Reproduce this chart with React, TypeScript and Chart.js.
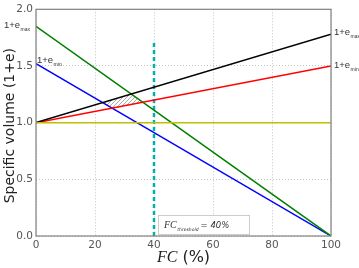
import React, { useEffect, useRef } from "react";
import { Chart, registerables } from "chart.js";

Chart.register(...registerables);

// ---- data ----
const fcRange = [0, 100];
const eMaxLine = [1.0, 1.78]; // black
const eMinLine = [1.0, 1.5]; // red
const greenLine = [1.85, 0.0];
const blueLine = [1.52, 0.0];
const yellowLine = [1.0, 1.0];
const thresholdFC = 40;
const thresholdRange = [0.0, 1.73];
const xTicks = [0, 20, 40, 60, 80, 100];
const yTicks = [0.0, 0.5, 1.0, 1.5, 2.0];
const legendMain = "FC";
const legendSub = "threshold";
const legendValue = "= 40%";
const labelMain = "1+e";
const labelMax = "max";
const labelMin = "min";

const pts = (vals: number[]) => vals.map((v, i) => ({ x: fcRange[i], y: v }));

function lineCoef(vals: number[]) {
  const a = (vals[1] - vals[0]) / (fcRange[1] - fcRange[0]);
  const b = vals[0] - a * fcRange[0];
  return { a, b };
}
function intersect(l1: number[], l2: number[]) {
  const c1 = lineCoef(l1);
  const c2 = lineCoef(l2);
  const x = (c2.b - c1.b) / (c1.a - c2.a);
  return { x, y: c1.a * x + c1.b };
}

const hatchPolygon = [
  intersect(blueLine, eMaxLine),
  intersect(greenLine, eMaxLine),
  intersect(greenLine, eMinLine),
  intersect(blueLine, eMinLine),
];

function makeHatch() {
  const c = document.createElement("canvas");
  c.width = 4;
  c.height = 4;
  const g = c.getContext("2d")!;
  g.strokeStyle = "#a0a0a0";
  g.lineWidth = 0.9;
  g.beginPath();
  g.moveTo(-1, 5);
  g.lineTo(5, -1);
  g.stroke();
  return g.createPattern(c, "repeat");
}

function drawSub(
  ctx: CanvasRenderingContext2D,
  x: number,
  y: number,
  main: string,
  sub: string,
  mainFont: string,
  subFont: string,
  color: string
) {
  ctx.fillStyle = color;
  ctx.font = mainFont;
  ctx.textAlign = "left";
  ctx.textBaseline = "alphabetic";
  ctx.fillText(main, x, y);
  const w = ctx.measureText(main).width;
  ctx.font = subFont;
  ctx.fillText(sub, x + w + 0.5, y + 3);
  return x + w + 0.5 + ctx.measureText(sub).width;
}

const decorPlugin = {
  id: "decor",
  beforeDatasetsDraw(chart: any) {
    const { ctx, scales } = chart;
    const xs = scales.x;
    const ys = scales.y;
    ctx.save();
    ctx.beginPath();
    hatchPolygon.forEach((p, i) => {
      const px = xs.getPixelForValue(p.x);
      const py = ys.getPixelForValue(p.y);
      if (i === 0) ctx.moveTo(px, py);
      else ctx.lineTo(px, py);
    });
    ctx.closePath();
    const pat = makeHatch();
    if (pat) {
      ctx.fillStyle = pat;
      ctx.fill();
    }
    ctx.restore();
  },
  afterDraw(chart: any) {
    const { ctx, chartArea, scales } = chart;
    const ys = scales.y;
    ctx.save();
    // frame
    ctx.strokeStyle = "#808080";
    ctx.lineWidth = 1.2;
    ctx.strokeRect(chartArea.left, chartArea.top, chartArea.right - chartArea.left, chartArea.bottom - chartArea.top);

    const lblColor = "#333";
    const mainF = "9.5px 'Liberation Sans'";
    const subF = "5px 'Liberation Sans'";
    // left labels
    drawSub(ctx, 4, ys.getPixelForValue(greenLine[0]) + 2, labelMain, labelMax, mainF, subF, lblColor);
    drawSub(ctx, chartArea.left + 1, ys.getPixelForValue(blueLine[0]) - 1, labelMain, labelMin, mainF, subF, lblColor);
    // right labels
    drawSub(ctx, chartArea.right + 3, ys.getPixelForValue(eMaxLine[1]) + 1, labelMain, labelMax, mainF, subF, lblColor);
    drawSub(ctx, chartArea.right + 3, ys.getPixelForValue(eMinLine[1]) + 2, labelMain, labelMin, mainF, subF, lblColor);

    // legend box
    const bx = chartArea.left + 122;
    const by = chartArea.bottom - 21;
    const bw = 91;
    const bh = 19;
    ctx.fillStyle = "#ffffff";
    ctx.fillRect(bx, by, bw, bh);
    ctx.strokeStyle = "#cccccc";
    ctx.lineWidth = 1;
    ctx.strokeRect(bx + 0.5, by + 0.5, bw, bh);
    const endX = drawSub(ctx, bx + 6, by + 13, legendMain, legendSub, "italic 10px 'Liberation Serif'", "italic 4.5px 'DejaVu Sans'", "#333");
    ctx.font = "italic 8.5px 'DejaVu Sans'";
    ctx.fillStyle = "#333";
    ctx.fillText(legendValue, endX + 2, by + 13);

    // y title
    ctx.save();
    ctx.translate(10, (chartArea.top + chartArea.bottom) / 2 + 3);
    ctx.rotate(-Math.PI / 2);
    ctx.font = "14px 'DejaVu Sans'";
    ctx.fillStyle = "#222";
    ctx.textAlign = "center";
    ctx.textBaseline = "middle";
    ctx.fillText("Specific volume (1+e)", 0, 0);
    ctx.restore();

    // x title
    const cx = (chartArea.left + chartArea.right) / 2;
    ctx.font = "italic 16px 'Liberation Serif'";
    const w1 = ctx.measureText("FC").width;
    ctx.font = "16px 'DejaVu Sans'";
    const w2 = ctx.measureText(" (%)").width;
    const sx = cx - (w1 + w2) / 2;
    ctx.fillStyle = "#222";
    ctx.textAlign = "left";
    ctx.textBaseline = "alphabetic";
    ctx.font = "italic 16px 'Liberation Serif'";
    ctx.fillText("FC", sx, 262);
    ctx.font = "16px 'DejaVu Sans'";
    ctx.fillText(" (%)", sx + w1, 262);
    ctx.restore();
  },
};

export default function App() {
  const ref = useRef<HTMLCanvasElement | null>(null);
  useEffect(() => {
    if (!ref.current) return;
    const base = { pointRadius: 0, borderWidth: 1.5, tension: 0, fill: false };
    const chart = new Chart(ref.current, {
      type: "line",
      data: {
        datasets: [
          { ...base, data: pts(yellowLine), borderColor: "#bfbf00" },
          { ...base, data: pts(eMaxLine), borderColor: "#000000" },
          { ...base, data: pts(eMinLine), borderColor: "#ff0000" },
          { ...base, data: pts(greenLine), borderColor: "#008000" },
          { ...base, data: pts(blueLine), borderColor: "#0000ff" },
          {
            ...base,
            data: thresholdRange.map((v) => ({ x: thresholdFC, y: v })),
            borderColor: "#00b0b0",
            borderWidth: 2.5,
            borderDash: [4, 3],
          },
        ],
      },
      options: {
        animation: false,
        responsive: false,
        maintainAspectRatio: false,
        layout: { padding: { top: 8, right: 28, left: 0, bottom: 0 } },
        plugins: { legend: { display: false }, tooltip: { enabled: false } },
        scales: {
          x: {
            type: "linear",
            min: fcRange[0],
            max: fcRange[1],
            afterFit: (s: any) => {
              s.height = 32;
            },
            afterBuildTicks: (s: any) => {
              s.ticks = xTicks.map((v) => ({ value: v }));
            },
            ticks: {
              color: "#555",
              font: { family: "'DejaVu Sans'", size: 10.5 },
              padding: 3,
              maxRotation: 0,
              callback: (v: any) => String(v),
            },
            grid: { color: "#b5b5b5", lineWidth: 0.8, drawTicks: false },
            border: { display: false, dash: [1, 2] },
          },
          y: {
            type: "linear",
            min: yTicks[0],
            max: yTicks[yTicks.length - 1],
            afterFit: (s: any) => {
              s.width = 36;
            },
            afterBuildTicks: (s: any) => {
              s.ticks = yTicks.map((v) => ({ value: v }));
            },
            ticks: {
              color: "#555",
              font: { family: "'DejaVu Sans'", size: 10.5 },
              padding: 3,
              callback: (v: any) => Number(v).toFixed(1),
            },
            grid: { color: "#b5b5b5", lineWidth: 0.8, drawTicks: false },
            border: { display: false, dash: [1, 2] },
          },
        },
      },
      plugins: [decorPlugin],
    } as any);
    return () => chart.destroy();
  }, []);
  return (
    <div style={{ position: "absolute", left: 0, top: 0, width: 359, height: 268, background: "#fff" }}>
      <canvas ref={ref} width={359} height={268} style={{ display: "block" }} />
    </div>
  );
}
